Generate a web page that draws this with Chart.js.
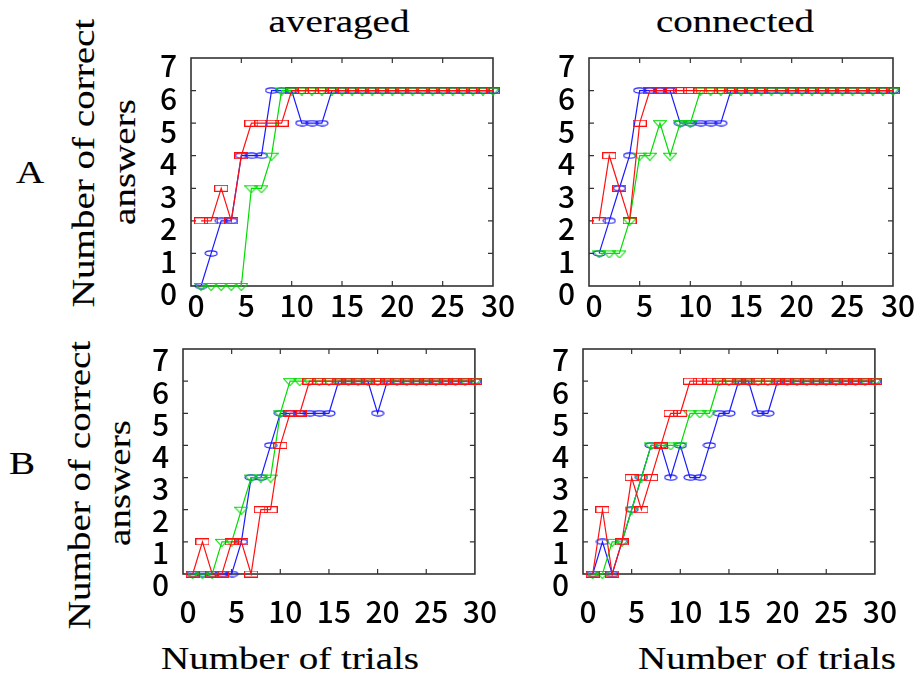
<!DOCTYPE html>
<html><head><meta charset="utf-8">
<script src="https://cdn.jsdelivr.net/npm/chart.js@4.4.0/dist/chart.umd.min.js"></script>
<style>
html,body{margin:0;padding:0;background:#fff;}
body{width:920px;height:677px;position:relative;overflow:hidden;color:#000;}
canvas{position:absolute;}
.t,.r{position:absolute;font-family:"Liberation Serif",serif;font-size:32px;line-height:32px;white-space:nowrap;-webkit-text-stroke:0.15px #000;}
.t{transform:translateX(-50%) scaleX(1.22);}
.r{transform:translate(-50%,-50%) rotate(-90deg) scaleX(1.22);}
</style></head><body>
<div class="t" style="left:339px;top:5px;">averaged</div>
<div class="t" style="left:735px;top:5px;">connected</div>
<div class="t" style="left:30px;top:156px;">A</div>
<div class="t" style="left:22px;top:447px;">B</div>
<div class="r" style="left:83px;top:163px;">Number of correct</div>
<div class="r" style="left:124px;top:162px;">answers</div>
<div class="r" style="left:79px;top:485px;">Number of correct</div>
<div class="r" style="left:119px;top:483px;">answers</div>
<div class="t" style="left:290px;top:642px;">Number of trials</div>
<div class="t" style="left:767px;top:642px;">Number of trials</div>
<canvas id="c1"></canvas><canvas id="c2"></canvas><canvas id="c3"></canvas><canvas id="c4"></canvas>
<script>
// ---- data ----
const trials = [1,2,3,4,5,6,7,8,9,10,11,12,13,14,15,16,17,18,19,20,21,22,23,24,25,26,27,28,29,30];
const xTickValues = [0,5,10,15,20,25,30];
const yTickValues = [0,1,2,3,4,5,6,7];

const avgA_blue  = [0,1,2,2,4,4,4,6,6,6,5,5,5,6,6,6,6,6,6,6,6,6,6,6,6,6,6,6,6,6];
const avgA_green = [0,0,0,0,0,3,3,4,6,6,6,6,6,6,6,6,6,6,6,6,6,6,6,6,6,6,6,6,6,6];
const avgA_red   = [2,2,3,2,4,5,5,5,5,6,6,6,6,6,6,6,6,6,6,6,6,6,6,6,6,6,6,6,6,6];

const conA_blue  = [1,2,3,4,6,6,6,6,5,5,5,5,5,6,6,6,6,6,6,6,6,6,6,6,6,6,6,6,6,6];
const conA_green = [1,1,1,2,4,4,5,4,5,5,6,6,6,6,6,6,6,6,6,6,6,6,6,6,6,6,6,6,6,6];
const conA_red   = [2,4,3,2,5,6,6,6,6,6,6,6,6,6,6,6,6,6,6,6,6,6,6,6,6,6,6,6,6,6];

const avgB_blue  = [0,0,0,0,0,1,3,3,4,5,5,5,5,5,5,6,6,6,6,5,6,6,6,6,6,6,6,6,6,6];
const avgB_green = [0,0,0,1,1,2,3,3,3,5,6,6,6,6,6,6,6,6,6,6,6,6,6,6,6,6,6,6,6,6];
const avgB_red   = [0,1,0,0,1,1,0,2,2,4,5,5,6,6,6,6,6,6,6,6,6,6,6,6,6,6,6,6,6,6];

const conB_blue  = [0,1,0,1,2,3,4,4,3,4,3,3,4,5,5,6,6,5,5,6,6,6,6,6,6,6,6,6,6,6];
const conB_green = [0,0,1,1,2,3,4,4,4,4,5,5,5,6,6,6,6,6,6,6,6,6,6,6,6,6,6,6,6,6];
const conB_red   = [0,2,0,1,3,2,3,4,5,5,6,6,6,6,6,6,6,6,6,6,6,6,6,6,6,6,6,6,6,6];

// ---- styles ----
const BLUE='#1a1aff', GREEN='#00dd00', RED='#ff1010';
function mk(w,h,draw){const c=document.createElement('canvas');c.width=w;c.height=h;draw(c.getContext('2d'));return c;}
const ell = mk(14,7,g=>{g.strokeStyle=BLUE;g.lineWidth=1.1;g.beginPath();g.ellipse(7,3.5,6,2.6,0,0,Math.PI*2);g.stroke();});
const box = mk(14,7,g=>{g.strokeStyle=RED;g.lineWidth=1.1;g.strokeRect(0.5,0.5,13,6);});
const tri = mk(14,10,g=>{g.strokeStyle=GREEN;g.lineWidth=1.1;g.beginPath();g.moveTo(0.5,2.5);g.lineTo(13.5,2.5);g.lineTo(7,9.5);g.closePath();g.stroke();});

const framePlugin = {
  id:'frame',
  beforeDatasetsDraw(chart){
    const {ctx, chartArea:a, scales:{x,y}} = chart;
    ctx.save();
    ctx.strokeStyle='#333'; ctx.lineWidth=1.6;
    ctx.strokeRect(a.left, a.top, a.right-a.left, a.bottom-a.top);
    ctx.lineWidth=1.2;
    ctx.beginPath();
    y.ticks.forEach(t=>{ if(t.value<=y.min||t.value>=y.max) return;
      const py=y.getPixelForValue(t.value);
      ctx.moveTo(a.left,py); ctx.lineTo(a.left+5,py); ctx.moveTo(a.right,py); ctx.lineTo(a.right-5,py);});
    x.ticks.forEach(t=>{ if(t.value<=x.min||t.value>=x.max) return;
      const px=x.getPixelForValue(t.value);
      ctx.moveTo(px,a.bottom); ctx.lineTo(px,a.bottom-5); ctx.moveTo(px,a.top); ctx.lineTo(px,a.top+5);});
    ctx.stroke(); ctx.restore();
  }
};

function ds(vals,color,img){
  return {data: trials.map((t,i)=>({x:t,y:vals[i]})), borderColor:color, borderWidth:1.2, tension:0,
    pointStyle:img, pointRadius:3, clip:false, fill:false};
}

const ML=70, MT=20, MR=25, MB=60;
function panel(id, L, T, R, B, xPad, yOff, series){
  const c=document.getElementById(id);
  const w=(R-L)+ML+MR, h=(B-T)+MT+MB;
  c.width=w; c.height=h; c.style.left=(L-ML)+'px'; c.style.top=(T-MT)+'px';
  const tickFont={family:'"Noto Sans CJK JP", "Noto Sans", sans-serif', size:30, weight:'500'};
  new Chart(c,{
    type:'line',
    data:{datasets:[ds(series[2],RED,box), ds(series[1],GREEN,tri), ds(series[0],BLUE,ell)]},
    options:{
      responsive:false, animation:false, devicePixelRatio:1,
      layout:{padding:{left:0,top:MT,right:MR,bottom:0}},
      plugins:{legend:{display:false},tooltip:{enabled:false}},
      scales:{
        x:{type:'linear',min:0,max:30,
          afterBuildTicks:s=>{s.ticks=xTickValues.map(v=>({value:v}));},
          afterFit:s=>{s.height=MB;},
          grid:{display:false,drawTicks:false}, border:{display:false},
          ticks:{font:tickFont,color:'#000',padding:xPad,labelOffset:5,maxRotation:0,autoSkip:false}},
        y:{type:'linear',min:0,max:7,
          afterBuildTicks:s=>{s.ticks=yTickValues.map(v=>({value:v}));},
          afterFit:s=>{s.width=ML;},
          grid:{display:false,drawTicks:false}, border:{display:false},
          ticks:{font:tickFont,color:'#000',padding:14,labelOffset:yOff,autoSkip:false}}
      }
    },
    plugins:[framePlugin]
  });
}

panel('c1',191,46,493,286,2,8,[avgA_blue,avgA_green,avgA_red]);
panel('c2',589,46,893,286,2,8,[conA_blue,conA_green,conA_red]);
panel('c3',183,337,487,574,20,11,[avgB_blue,avgB_green,avgB_red]);
panel('c4',583,337,887,574,20,11,[conB_blue,conB_green,conB_red]);
</script>
</body></html>
